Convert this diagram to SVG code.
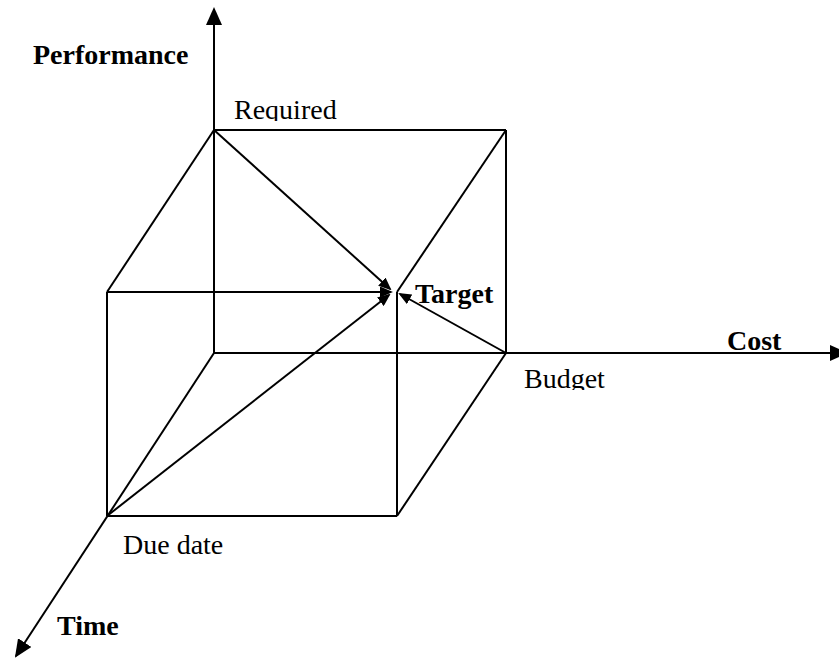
<svg xmlns="http://www.w3.org/2000/svg" width="839" height="660" viewBox="0 0 839 660">
<style>
.ln{stroke:#000;stroke-width:2;fill:none}
.t{font-family:"Liberation Serif","Times New Roman",serif;font-size:28px;fill:#000}
.b{font-weight:bold}
</style>
<defs>
<marker id="big" markerUnits="userSpaceOnUse" viewBox="0 0 18 16" markerWidth="18" markerHeight="16" refX="16" refY="8" orient="auto"><path d="M0,0 L18,8 L0,16 z" fill="#000"/></marker>
<marker id="sm" markerUnits="userSpaceOnUse" viewBox="0 0 13 11" markerWidth="13" markerHeight="11" refX="11" refY="5.5" orient="auto"><path d="M0,0 L13,5.5 L0,11 z" fill="#000"/></marker>
<clipPath id="cReq"><rect x="220" y="90" width="140" height="31"/></clipPath>
<clipPath id="cBud"><rect x="515" y="360" width="110" height="30"/></clipPath>
</defs>
<rect width="839" height="660" fill="#fff"/>
<g id="connectors">
<line class="ln" x1="214" y1="353" x2="214" y2="9" marker-end="url(#big)"/>
<line class="ln" x1="214" y1="353" x2="846" y2="353" marker-end="url(#big)"/>
<line class="ln" x1="214" y1="353" x2="16" y2="656" marker-end="url(#big)"/>
<line class="ln" x1="214" y1="130" x2="506" y2="130"/>
<line class="ln" x1="506" y1="130" x2="506" y2="353"/>
<line class="ln" x1="214" y1="130" x2="107" y2="292"/>
<line class="ln" x1="107" y1="292" x2="107" y2="516"/>
<line class="ln" x1="107" y1="516" x2="397" y2="516"/>
<line class="ln" x1="397" y1="516" x2="506" y2="353"/>
<line class="ln" x1="397" y1="292" x2="397" y2="516"/>
<line class="ln" x1="506" y1="130" x2="397" y2="292"/>
<line class="ln" x1="107" y1="292" x2="391" y2="292" marker-end="url(#sm)"/>
<line class="ln" x1="214" y1="130" x2="390" y2="289" marker-end="url(#sm)"/>
<line class="ln" x1="107" y1="516" x2="389" y2="295" marker-end="url(#sm)"/>
<line class="ln" x1="506" y1="353" x2="400" y2="294" marker-end="url(#sm)"/>
</g>
<g id="performance"><text class="t b" x="33" y="64">Performance</text></g>
<g id="required"><text class="t" x="234" y="119" clip-path="url(#cReq)">Required</text></g>
<g id="target"><text class="t b" x="415" y="303">Target</text></g>
<g id="cost"><text class="t b" x="727" y="350">Cost</text></g>
<g id="budget"><text class="t" x="524" y="388" clip-path="url(#cBud)">Budget</text></g>
<g id="duedate"><text class="t" x="123" y="554">Due date</text></g>
<g id="time"><text class="t b" x="57" y="635">Time</text></g>
</svg>
